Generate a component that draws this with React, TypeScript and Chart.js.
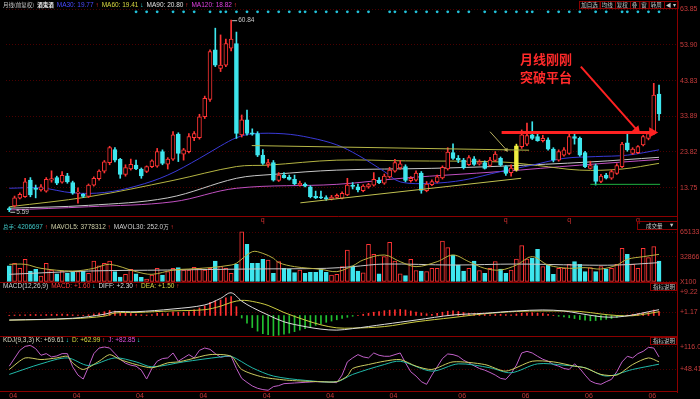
import { useEffect, useRef } from 'react';
import { Chart, registerables } from 'chart.js';

Chart.register(...registerables);

const opens = [7.9, 8.6, 10.8, 11.2, 15.9, 13.5, 13.1, 12.8, 15.9, 16.6,
  15.3, 17.1, 15.2, 12.2, 11.9, 11.3, 14.5, 16.3, 18.4, 20.8,
  24.5, 21.7, 17.5, 19.0, 20.1, 19.0, 18.3, 19.7, 19.8, 23.9,
  20.4, 21.8, 28.8, 23.2, 23.9, 27.8, 27.8, 33.7, 38.6, 52.5,
  47.3, 48.2, 53.0, 54.3, 28.6, 32.8, 29.2, 29.0, 22.9, 20.3,
  20.8, 15.8, 17.3, 16.7, 16.1, 14.5, 14.8, 14.0, 11.3, 11.2,
  11.0, 10.5, 11.0, 10.8, 11.7, 14.4, 14.0, 12.9, 14.0, 14.5,
  15.8, 15.0, 16.8, 18.4, 19.3, 19.7, 15.7, 15.9, 17.9, 12.9,
  14.6, 15.4, 16.5, 19.0, 23.6, 22.0, 21.5, 20.2, 21.9, 20.4,
  20.8, 20.0, 21.4, 22.0, 19.7, 18.0, 18.7, 25.3, 26.0, 28.6,
  28.1, 27.0, 27.2, 24.6, 21.5, 22.9, 23.4, 28.1, 27.6, 23.6,
  19.2, 20.0, 15.5, 17.3, 16.4, 17.8, 19.7, 26.4, 23.4, 23.6,
  25.8, 27.6, 29.0, 40.1];
const highs = [8.3, 11.4, 12.3, 16.4, 16.6, 14.5, 14.6, 16.6, 18.5, 17.0,
  18.3, 17.8, 15.6, 13.7, 12.1, 14.8, 16.8, 18.8, 21.4, 25.4,
  25.0, 22.0, 20.2, 21.8, 21.5, 19.3, 19.9, 21.6, 24.8, 24.4,
  22.2, 29.5, 29.2, 24.8, 29.0, 29.5, 34.4, 39.5, 52.5, 58.6,
  56.7, 55.5, 60.84, 57.5, 34.2, 35.6, 30.3, 29.5, 24.5, 21.7,
  21.4, 18.0, 18.0, 17.3, 17.3, 15.6, 15.1, 14.3, 12.8, 12.8,
  11.5, 11.6, 12.0, 12.6, 16.4, 15.2, 14.8, 14.6, 15.0, 18.0,
  16.6, 17.6, 19.5, 21.7, 21.4, 20.2, 16.9, 18.5, 18.3, 15.5,
  16.0, 17.3, 19.9, 25.0, 26.1, 22.8, 22.0, 22.8, 22.5, 21.6,
  21.3, 22.3, 23.9, 22.4, 20.0, 20.2, 26.0, 30.0, 31.9, 32.3,
  29.0, 28.5, 27.8, 25.0, 24.4, 25.0, 28.8, 29.0, 28.0, 24.0,
  21.2, 20.4, 17.5, 17.8, 18.8, 20.5, 26.5, 29.5, 25.0, 25.6,
  28.5, 29.3, 43.1, 42.6];
const lows = [7.0, 8.3, 10.6, 11.0, 11.2, 10.9, 12.8, 12.5, 15.3, 14.6,
  15.0, 15.0, 11.9, 9.4, 11.0, 11.0, 14.2, 15.9, 17.9, 20.2,
  21.0, 16.4, 17.0, 18.7, 18.8, 16.4, 18.0, 19.4, 19.5, 20.2,
  19.0, 21.4, 21.1, 21.5, 23.5, 27.0, 27.4, 33.2, 38.0, 47.8,
  46.4, 47.8, 52.2, 27.6, 28.0, 28.5, 28.5, 22.5, 20.3, 19.5,
  15.6, 15.5, 16.4, 15.9, 14.6, 14.2, 14.0, 10.9, 10.7, 10.7,
  10.2, 10.3, 10.8, 10.6, 11.5, 13.4, 12.6, 12.6, 13.6, 14.2,
  14.9, 14.7, 16.5, 18.1, 18.9, 15.4, 15.3, 15.6, 12.2, 12.6,
  14.3, 15.1, 16.2, 18.7, 21.7, 20.8, 19.0, 20.0, 20.0, 20.1,
  19.0, 19.8, 21.1, 19.8, 17.2, 17.0, 18.4, 24.8, 25.6, 27.3,
  26.8, 26.6, 24.3, 21.0, 21.2, 22.6, 23.1, 26.0, 22.6, 19.4,
  19.0, 14.5, 15.2, 16.2, 16.1, 17.5, 19.4, 24.0, 23.1, 23.3,
  25.5, 27.2, 28.7, 32.7];
const closes = [7.6, 10.9, 11.9, 15.4, 11.7, 13.3, 14.0, 16.1, 16.3, 15.0,
  17.2, 15.4, 12.2, 12.5, 11.3, 14.5, 16.4, 18.4, 21.0, 25.0,
  21.5, 17.5, 19.4, 20.3, 19.0, 17.1, 19.7, 21.3, 23.9, 20.6,
  21.8, 28.6, 23.4, 24.4, 28.1, 29.0, 33.7, 38.9, 52.0, 48.2,
  48.2, 54.3, 55.5, 29.0, 32.8, 29.0, 28.8, 22.9, 20.6, 20.8,
  15.9, 17.3, 16.6, 16.1, 14.8, 15.0, 14.2, 11.2, 10.9, 10.9,
  10.5, 11.1, 11.6, 12.2, 14.5, 14.1, 13.1, 14.2, 14.6, 16.1,
  15.2, 17.0, 18.7, 20.8, 20.5, 15.8, 16.4, 17.9, 13.0, 14.8,
  15.5, 16.8, 19.5, 23.8, 22.0, 21.5, 19.4, 22.2, 20.3, 21.0,
  19.2, 21.5, 23.2, 20.1, 17.8, 19.3, 25.5, 28.6, 28.4, 27.6,
  27.0, 27.6, 24.6, 21.5, 23.9, 24.4, 28.1, 27.6, 22.9, 19.7,
  20.0, 15.5, 17.0, 16.4, 18.3, 20.0, 26.0, 24.4, 24.6, 25.3,
  28.1, 29.0, 39.8, 34.5];
const highlightIdx = 96;

const volumes = [21200, 24400, 17800, 29600, 14300, 16500, 7800, 24400, 15600, 10800,
  14300, 11300, 12600, 13500, 14300, 11300, 27400, 21200, 24400, 27400,
  13500, 6500, 10000, 16500, 10800, 6100, 3900, 9100, 17800, 9100,
  13500, 17800, 18700, 15600, 15600, 19100, 17800, 15600, 17800, 27400,
  20000, 17800, 11300, 23400, 65500, 49100, 24400, 24400, 29600, 28700,
  11300, 26500, 17800, 16900, 12200, 15600, 11300, 12600, 12600, 16900,
  12600, 9100, 10000, 20000, 41700, 21200, 14300, 12000, 49100, 36100,
  10800, 33000, 51700, 27400, 10800, 8300, 29600, 15000, 14300, 13500,
  17800, 17800, 53400, 44700, 35200, 22100, 14300, 17800, 27400, 15000,
  11300, 17800, 26500, 16900, 11300, 15600, 30000, 47300, 30000, 30900,
  42600, 20000, 22100, 10000, 17800, 17800, 23000, 26500, 23000, 13500,
  18700, 13500, 20000, 16900, 17800, 23000, 43900, 36100, 23000, 17800,
  43900, 31700, 46000, 27400];
const mavol5: [number, number][] = [[0, 23000], [3, 23000], [6, 17800], [12, 14300], [16, 17800], [19, 23000], [24, 13500], [27, 10000], [31, 15600], [34, 16900], [38, 18700], [42, 22100], [43, 24400], [46, 39500], [48, 37300], [50, 30900], [51, 25200], [54, 20000], [59, 16500], [62, 13500], [65, 21000], [67, 28700], [71, 35200], [74, 26500], [77, 20000], [81, 26500], [84, 35200], [87, 26500], [90, 17800], [93, 15600], [96, 22100], [99, 33000], [102, 22100], [106, 17800], [109, 18700], [112, 16900], [115, 22100], [117, 29600], [120, 33000], [123, 36000]];
const mavol30: [number, number][] = [[0, 10000], [15, 14300], [30, 15600], [45, 16900], [60, 17800], [65, 20000], [71, 23400], [84, 22100], [96, 23400], [108, 22100], [115, 22100], [123, 25200]];

const ma30: [number, number][] = [[0, 13.6], [6, 13.7], [12, 12.3], [18, 12.4], [24, 14.2], [30, 17.3], [36, 22.0], [40, 25.5], [43, 27.8], [46, 28.9], [52, 28.9], [57, 27.8], [62, 25.8], [66, 22.9], [71, 18.3], [74, 15.4], [80, 15.0], [86, 15.9], [93, 18.3], [99, 20.1], [105, 22.0], [111, 22.5], [117, 22.9], [123, 24.4]];
const ma60: [number, number][] = [[0, 8.4], [15, 11.2], [31, 15.8], [43, 19.7], [49, 20.1], [62, 21.5], [75, 21.3], [93, 21.0], [100, 20.0], [108, 18.7], [116, 19.0], [123, 20.6]];
const ma90: [number, number][] = [[0, 8.0], [15, 8.8], [30, 10.9], [43, 16.4], [50, 17.5], [62, 18.7], [80, 19.2], [93, 19.8], [110, 21.0], [123, 22.3]];
const ma120: [number, number][] = [[0, 7.5], [15, 8.4], [31, 9.8], [43, 13.6], [62, 14.7], [75, 16.5], [93, 18.3], [108, 20.1], [123, 21.7]];

const upperLine: [number, number][] = [[45.9, 25.6], [98.4, 24.3]];
const lowerLine: [number, number][] = [[55.1, 9.5], [96.9, 16.4]];
const breakArrow: [number, number][] = [[93.2, 29.3], [121.7, 29.3]];
const pointerArrow: [number, number][] = [[108.2, 47.8], [118.8, 30.0]];
const smallArrow: [number, number][] = [[91, 29.5], [94.1, 24.4]];
const greenLine: [number, number][] = [[110, 14.7], [123.2, 14.7]];
const dotIdx = [24, 26, 28, 31, 33, 35, 38, 40, 41, 43, 45, 47, 49, 51, 53, 55, 56, 58, 60, 62, 64, 66, 68, 72, 73, 75, 77, 79, 81, 83, 85, 87, 90, 92, 94, 96, 98, 99, 102, 104, 106, 108, 111, 113, 116, 117, 119, 121, 123];
const dotLevel = 63.2;
const qMarkIdx = [48, 94, 106, 119];

const macdHist = [0.1, 0.2, 0.3, 0.3, 0.4, 0.4, 0.3, 0.4, 0.5, 0.5,
  0.6, 0.5, 0.3, 0.2, 0.1, 0.3, 0.6, 1.0, 1.5, 2.0,
  1.8, 1.2, 0.9, 0.8, 0.6, 0.3, 0.2, 0.4, 0.9, 0.8,
  0.8, 1.5, 1.3, 1.2, 1.6, 2.3, 3.0, 3.8, 5.2, 5.8,
  6.2, 7.0, 7.5, 3.5, -1.0, -3.0, -4.8, -6.2, -7.2, -7.6,
  -8.0, -7.8, -7.4, -7.0, -6.4, -5.8, -5.2, -4.5, -3.9, -3.3,
  -2.7, -2.2, -1.7, -1.2, -0.7, -0.3, 0.1, 0.5, 0.9, 1.3,
  1.6, 1.9, 2.1, 2.3, 2.4, 2.2, 1.8, 1.4, 1.0, 0.7,
  0.5, 0.9, 1.3, 1.7, 1.9, 1.6, 1.2, 0.9, 0.7, 0.5,
  0.4, 0.3, 0.4, 0.5, 0.4, 0.3, 0.6, 0.9, 1.0, 1.1,
  0.9, 0.8, 0.5, 0.1, -0.3, -0.6, -0.9, -1.2, -1.6, -1.9,
  -2.1, -2.0, -1.8, -1.5, -1.2, -0.8, -0.3, 0.2, 0.5, 0.8,
  1.0, 1.3, 2.2, 1.6];
const diffLine: [number, number][] = [[0, -1.8], [12, -1.1], [18, 0.5], [20, 1.5], [24, 1.5], [31, 2.6], [37, 4.2], [40, 6.8], [42, 9.0], [44, 5.7], [46, 3.2], [49, 0.2], [52, -2.5], [56, -4.4], [59, -5.4], [62, -5.8], [65, -5.2], [71, -3.5], [77, -1.8], [84, 0.2], [90, 0.9], [96, 1.8], [101, 2.2], [105, 1.8], [108, 0.8], [112, -0.5], [115, -0.6], [118, 0.2], [121, 1.5], [123, 2.3]];
const deaLine: [number, number][] = [[0, -1.85], [12, -1.25], [18, -0.25], [20, 1.0], [24, 1.2], [31, 1.85], [37, 2.3], [40, 3.7], [42, 5.2], [44, 6.0], [46, 5.6], [49, 4.0], [52, 1.2], [56, -1.8], [59, -3.7], [62, -4.9], [65, -5.0], [71, -4.4], [77, -2.5], [84, -0.8], [90, 0.7], [96, 1.6], [101, 1.8], [108, 1.6], [112, 0.6], [115, 0.0], [118, -0.1], [121, 0.8], [123, 1.5]];

const kLine: [number, number][] = [[0, 47], [3, 82], [6, 77], [9, 82], [11, 87], [12, 67], [14, 47], [17, 72], [19, 92], [21, 77], [24, 62], [27, 52], [30, 67], [32, 70], [34, 77], [38, 92], [42, 87], [44, 47], [48, 24], [53, 14], [59, 10], [62, 10], [64, 27], [65, 50], [68, 62], [71, 72], [74, 77], [77, 57], [80, 47], [84, 70], [90, 62], [94, 42], [99, 72], [103, 70], [107, 57], [109, 52], [112, 32], [115, 30], [118, 62], [121, 82], [123, 70]];
const dLine: [number, number][] = [[0, 32], [6, 64], [11, 82], [15, 59], [20, 82], [24, 70], [27, 55], [33, 70], [40, 85], [42, 87], [46, 52], [50, 27], [56, 14], [62, 10], [65, 32], [71, 62], [74, 72], [80, 42], [85, 64], [91, 52], [95, 37], [100, 64], [105, 60], [109, 52], [113, 27], [118, 47], [123, 63]];
const jLine: [number, number][] = [[0, 57], [2, 105], [3, 117], [4, 120], [5, 110], [6, 90], [7, 95], [8, 85], [9, 88], [10, 95], [11, 95], [12, 55], [13, 30], [14, 18], [15, 55], [16, 95], [17, 112], [18, 115], [19, 112], [20, 95], [21, 78], [22, 66], [23, 60], [24, 57], [25, 45], [26, 18], [27, 50], [28, 72], [29, 80], [30, 82], [31, 97], [32, 72], [33, 82], [34, 92], [35, 82], [36, 105], [37, 112], [38, 108], [39, 95], [40, 84], [41, 87], [42, 87], [43, 50], [44, 20], [45, 8], [46, -3], [47, -10], [48, -14], [49, -16], [50, -5], [51, -2], [52, 4], [54, 6], [56, 8], [58, 10], [60, 9], [62, 7], [63, 30], [64, 70], [65, 82], [66, 92], [67, 85], [68, 82], [69, 97], [70, 90], [71, 87], [72, 87], [74, 97], [75, 67], [76, 40], [77, 27], [78, 10], [79, 2], [80, 30], [81, 55], [82, 80], [83, 94], [84, 92], [85, 87], [86, 75], [87, 67], [88, 58], [89, 50], [90, 45], [91, 38], [92, 30], [93, 20], [94, 17], [95, 35], [96, 60], [97, 97], [98, 102], [99, 97], [100, 87], [101, 78], [102, 72], [103, 62], [104, 57], [105, 50], [106, 47], [107, 64], [108, 50], [109, 30], [110, 12], [111, 5], [112, 2], [113, 10], [114, 17], [115, 40], [116, 70], [117, 87], [118, 82], [119, 95], [120, 102], [121, 114], [122, 112], [123, 85]];

const xTickIdx = [0, 12, 24, 36, 48, 60, 72, 85, 97, 109, 121];
const xTickLbl = ['04', '04', '04', '04', '04', '04', '04', '06', '06', '06', '06'];
const priceTicks = [13.75, 23.82, 33.89, 43.83, 53.90, 63.85];
const volTicks = [0, 32866, 65133];
const macdTicks = [1.17, 9.22];
const kdjTicks = [48.41, 116.0];
const toolbarLabels = ['加自选', '均线', '复权', '叠', '窗', '转周', '◀ ▾'];

const UP = '#ff3434';
const DOWN = '#3ee6ee';
const HILITE = '#f2f040';
const AXIS_RED = '#8c0000';
const LABEL_RED = '#c83c3c';
const LATIN = '"Liberation Sans", "DejaVu Sans", sans-serif';
const CJK = '"Noto Sans CJK SC", sans-serif';

type Seg = { t: string; c: string; cjk?: boolean; b?: boolean };

function drawRun(ctx: CanvasRenderingContext2D, x: number, y: number, segs: Seg[]) {
  for (const s of segs) {
    ctx.font = `${s.b ? 'bold ' : ''}${s.cjk ? 5.5 : 6.5}px ${s.cjk ? CJK : LATIN}`;
    ctx.fillStyle = s.c;
    ctx.fillText(s.t, x, y);
    x += ctx.measureText(s.t).width;
  }
  return x;
}

function drawHeader(ctx: CanvasRenderingContext2D, y: number, items: { x: number; segs: Seg[] }[]) {
  let end = 0;
  for (const it of items) {
    const sx = Math.max(it.x, end + 3);
    end = drawRun(ctx, sx, y, it.segs);
  }
}

export default function App() {
  const ref = useRef<HTMLCanvasElement>(null);

  useEffect(() => {
    const canvas = ref.current;
    if (!canvas) return;
    const n = opens.length;
    const ids = Array.from({ length: n }, (_, i) => i);
    const isUp = (i: number) => closes[i] >= opens[i];
    const edge = (i: number) => (i === highlightIdx ? HILITE : isUp(i) ? UP : DOWN);
    const fill = (i: number) => (i === highlightIdx ? HILITE : isUp(i) ? '#000000' : DOWN);
    const xy = (pts: [number, number][]) => pts.map(([x, y]) => ({ x, y }));

    const line = (pts: [number, number][], color: string, yAxisID: string, extra: any = {}) => ({
      type: 'line', data: xy(pts), borderColor: color, borderWidth: 1, pointRadius: 0,
      tension: 0.35, xAxisID: 'x', yAxisID, order: 3, ...extra,
    });
    const arrow = (pts: [number, number][], color: string, width: number, rot: number, size: number) => ({
      type: 'line', data: xy(pts), borderColor: color, borderWidth: width, tension: 0,
      pointRadius: [0, size], pointStyle: 'triangle', pointRotation: [0, rot],
      pointBackgroundColor: color, pointBorderColor: color, pointBorderWidth: 0,
      xAxisID: 'x', yAxisID: 'y', order: 0,
    });

    const datasets: any[] = [
      {
        type: 'bar', data: ids.map(i => ({ x: i, y: [opens[i], closes[i]] })),
        backgroundColor: ids.map(fill), borderColor: ids.map(edge), borderWidth: 1,
        borderSkipped: false, barThickness: 4, minBarLength: 1, grouped: false,
        xAxisID: 'x', yAxisID: 'y', order: 1,
      },
      {
        type: 'bar', data: ids.map(i => ({ x: i, y: [lows[i], highs[i]] })),
        backgroundColor: ids.map(edge), borderWidth: 0, barThickness: 1, grouped: false,
        xAxisID: 'x', yAxisID: 'y', order: 2,
      },
      line(ma30, '#3a3ad8', 'y'),
      line(ma60, '#b4b442', 'y'),
      line(ma90, '#c8c8c8', 'y'),
      line(ma120, '#c050c0', 'y'),
      line(upperLine, '#b8b848', 'y', { tension: 0, order: 0 }),
      line(lowerLine, '#c0c050', 'y', { tension: 0, order: 0 }),
      line(greenLine, '#20b040', 'y', { tension: 0, order: 0 }),
      arrow(smallArrow, '#b8b060', 1, 148, 2.5),
      arrow(breakArrow, '#ff2222', 3, 90, 6),
      arrow(pointerArrow, '#ff2222', 2, 138, 5),
      {
        type: 'line', data: dotIdx.map(i => ({ x: i, y: dotLevel })), showLine: false,
        pointRadius: 1.4, pointBackgroundColor: '#22c4dc', pointBorderWidth: 0,
        xAxisID: 'x', yAxisID: 'y', order: 0,
      },
      {
        type: 'bar', data: ids.map(i => ({ x: i, y: volumes[i] })),
        backgroundColor: ids.map(i => (isUp(i) ? '#000000' : DOWN)),
        borderColor: ids.map(i => (isUp(i) ? UP : DOWN)), borderWidth: 1, borderSkipped: false,
        barThickness: 4, grouped: false, xAxisID: 'x', yAxisID: 'yv', order: 2,
      },
      line(mavol5, '#b8b040', 'yv', { order: 1 }),
      line(mavol30, '#c8c8c8', 'yv', { order: 1 }),
      {
        type: 'bar', data: ids.map(i => ({ x: i, y: macdHist[i] })),
        backgroundColor: ids.map(i => (macdHist[i] >= 0 ? '#ff3030' : '#22c030')),
        borderWidth: 0, barThickness: 1, grouped: false, xAxisID: 'x', yAxisID: 'ym', order: 2,
      },
      line(diffLine, '#dcdcdc', 'ym', { order: 1 }),
      line(deaLine, '#cccc40', 'ym', { order: 1 }),
      line(kLine, '#cccc60', 'yk', { order: 1, tension: 0.25 }),
      line(dLine, '#20b8a8', 'yk', { order: 1, tension: 0.3 }),
      line(jLine, '#c060c8', 'yk', { order: 1, tension: 0 }),
    ];

    const yAxis = (weight: number, min: number, max: number, ticks: number[], fmt: (v: number) => string) => ({
      type: 'linear', position: 'right', stack: 'panels', stackWeight: weight, min, max,
      afterBuildTicks: (s: any) => { s.ticks = ticks.map(v => ({ value: v })); },
      afterFit: (s: any) => { s.width = 23; s.paddingTop = 0; s.paddingBottom = 0; },
      ticks: {
        color: LABEL_RED, padding: 3, autoSkip: false,
        font: { size: 7, family: LATIN }, callback: (v: any) => fmt(Number(v)),
      },
      grid: { color: 'rgba(150,0,0,0.5)', drawTicks: false, lineWidth: 1 },
      border: { display: true, color: AXIS_RED, width: 1, dash: [1, 2] },
    });

    const bg = {
      id: 'bg',
      beforeDraw(chart: any) {
        const c = chart.ctx;
        c.save(); c.fillStyle = '#000'; c.fillRect(0, 0, chart.width, chart.height); c.restore();
      },
    };

    const overlay = {
      id: 'overlay',
      afterDraw(chart: any) {
        const c: CanvasRenderingContext2D = chart.ctx;
        const ca = chart.chartArea;
        const sx = chart.scales.x, sy = chart.scales.y, sv = chart.scales.yv;
        const sm = chart.scales.ym, sk = chart.scales.yk;
        c.save();
        c.strokeStyle = AXIS_RED; c.lineWidth = 1;
        for (const s of [sy, sv, sm, sk]) {
          const yy = Math.round(s.bottom) - 0.5;
          c.beginPath(); c.moveTo(0, yy); c.lineTo(ca.right, yy); c.stroke();
        }
        const rx = Math.round(ca.right) + 0.5;
        c.beginPath(); c.moveTo(rx, 0); c.lineTo(rx, ca.top); c.stroke();
        c.textBaseline = 'middle'; c.textAlign = 'left';

        drawHeader(c, 5, [
          { x: 0, segs: [{ t: '月线(前复权)', c: '#c8c8c8', cjk: true }] },
          { x: 26, segs: [{ t: '酒鬼酒', c: '#f0f0f0', cjk: true, b: true }] },
          { x: 38, segs: [{ t: 'MA30: 19.77', c: '#4a4aff' }, { t: ' ↑', c: '#ff3030' }] },
          { x: 83, segs: [{ t: 'MA60: 19.41', c: '#d8d840' }, { t: ' ↓', c: '#30e0e0' }] },
          { x: 122, segs: [{ t: 'MA90: 20.80', c: '#e0e0e0' }, { t: ' ↑', c: '#ff3030' }] },
          { x: 158, segs: [{ t: 'MA120: 18.82', c: '#e040e0' }, { t: ' ↑', c: '#ff3030' }] },
        ]);

        // toolbar: boxes laid out right-to-left so they end at the axis line
        c.font = `5.5px ${CJK}`;
        const widths = toolbarLabels.map(b => c.measureText(b).width + 4);
        let bx = rx - widths.reduce((a, b) => a + b, 0);
        toolbarLabels.forEach((b, k) => {
          c.strokeStyle = AXIS_RED; c.strokeRect(Math.round(bx) + 0.5, 1.5, widths[k], 7);
          c.fillStyle = '#c8c8c8'; c.fillText(b, bx + 2, 5);
          bx += widths[k];
        });

        const hx = sx.getPixelForValue(42), hyy = sy.getPixelForValue(highs[42]);
        c.strokeStyle = '#c8c8c8';
        c.beginPath(); c.moveTo(hx + 1, hyy + 0.5); c.lineTo(hx + 6, hyy + 0.5); c.stroke();
        drawRun(c, hx + 7, hyy, [{ t: '60.84', c: '#c8c8c8' }]);
        const lx = sx.getPixelForValue(0), ly = sy.getPixelForValue(lows[0]);
        c.beginPath(); c.moveTo(lx + 1, ly + 0.5); c.lineTo(lx + 6, ly + 0.5); c.stroke();
        drawRun(c, lx + 7, ly, [{ t: '5.59', c: '#c8c8c8' }]);

        c.textAlign = 'center';
        c.font = `bold 13px ${CJK}`;
        c.fillStyle = '#ff2a2a';
        c.fillText('月线刚刚', 546, 59);
        c.fillText('突破平台', 546, 77);
        c.textAlign = 'left';

        c.font = `7px ${LATIN}`; c.fillStyle = '#d03030';
        for (const q of qMarkIdx) c.fillText('q', sx.getPixelForValue(q) - 2, sy.bottom + 3);

        const vy = sy.bottom + 10;
        drawHeader(c, vy, [
          { x: 0, segs: [{ t: '总手', c: '#40c8c8', cjk: true }, { t: ': 4206697', c: '#40c8c8' }, { t: ' ↑', c: '#ff3030' }] },
          { x: 41, segs: [{ t: 'MAVOL5: 3778312', c: '#d0d0a8' }, { t: ' ↑', c: '#ff3030' }] },
          { x: 95, segs: [{ t: 'MAVOL30: 252.0', c: '#d0d0d0' }, { t: '万', c: '#d0d0d0', cjk: true }, { t: ' ↑', c: '#ff3030' }] },
        ]);
        c.strokeStyle = AXIS_RED; c.strokeRect(637.5, sy.bottom + 4.5, 40, 8);
        drawRun(c, 646, sy.bottom + 8.5, [{ t: '成交量', c: '#c8c8c8', cjk: true }]);
        drawRun(c, 670, sy.bottom + 8.5, [{ t: '▾', c: '#c8c8c8' }]);

        const my = sv.bottom + 3.5;
        drawHeader(c, my, [
          { x: 0, segs: [{ t: 'MACD(12,26,9)', c: '#d0d0d0' }] },
          { x: 39, segs: [{ t: 'MACD: +1.60', c: '#ff3a3a' }, { t: ' ↓', c: '#30e0e0' }] },
          { x: 78, segs: [{ t: 'DIFF: +2.30', c: '#dcdcdc' }, { t: ' ↑', c: '#ff3030' }] },
          { x: 114, segs: [{ t: 'DEA: +1.50', c: '#d8d840' }, { t: ' ↑', c: '#ff3030' }] },
        ]);
        c.strokeStyle = AXIS_RED; c.strokeRect(650.5, sv.bottom + 0.5, 26, 7);
        drawRun(c, 653, sv.bottom + 4, [{ t: '指标说明', c: '#c8c8c8', cjk: true }]);

        const ky = sm.bottom + 3.5;
        drawHeader(c, ky, [
          { x: 0, segs: [{ t: 'KDJ(9,3,3) K: +69.61', c: '#d8d8c0' }, { t: ' ↓', c: '#30e0e0' }] },
          { x: 59, segs: [{ t: 'D: +62.99', c: '#d8d840' }, { t: ' ↑', c: '#ff3030' }] },
          { x: 89, segs: [{ t: 'J: +82.85', c: '#e050e0' }, { t: ' ↓', c: '#30e0e0' }] },
        ]);
        c.strokeStyle = AXIS_RED; c.strokeRect(650.5, sm.bottom + 0.5, 26, 7);
        drawRun(c, 653, sm.bottom + 4, [{ t: '指标说明', c: '#c8c8c8', cjk: true }]);
        c.restore();
      },
    };

    const chart = new Chart(canvas, {
      type: 'bar',
      data: { datasets },
      options: {
        animation: false,
        responsive: false,
        maintainAspectRatio: false,
        devicePixelRatio: 1,
        events: [],
        layout: { padding: 0 },
        plugins: { legend: { display: false }, tooltip: { enabled: false } },
        scales: {
          x: {
            type: 'linear', position: 'bottom', min: -0.62, max: 126.4, offset: false,
            afterBuildTicks: (s: any) => { s.ticks = xTickIdx.map(v => ({ value: v })); },
            afterFit: (s: any) => { s.height = 7; s.paddingLeft = 0; s.paddingRight = 0; },
            ticks: {
              autoSkip: false, maxRotation: 0, minRotation: 0, align: 'start', padding: 0,
              color: LABEL_RED, font: { size: 7, family: LATIN },
              callback: (v: any) => { const k = xTickIdx.indexOf(Number(v)); return k >= 0 ? xTickLbl[k] : ''; },
            },
            grid: { display: false, drawTicks: false },
            border: { display: false },
          },
          y: yAxis(211, 5.52, 64.83, priceTicks, v => v.toFixed(2)),
          yv: yAxis(66, -1303, 84673, volTicks, v => (v === 0 ? 'X100' : String(v))),
          ym: yAxis(54, -8.53, 12.9, macdTicks, v => '+' + v.toFixed(2)),
          yk: yAxis(55, -21.3, 145.4, kdjTicks, v => (v >= 100 ? '+' + v.toFixed(1) : '+' + v.toFixed(2))),
        } as any,
      },
      plugins: [bg, overlay],
    } as any);

    return () => chart.destroy();
  }, []);

  return (
    <div style={{ position: 'fixed', left: 0, top: 0, width: 700, height: 399, background: '#000' }}>
      <canvas ref={ref} width={700} height={399} style={{ display: 'block', width: 700, height: 399 }} />
    </div>
  );
}
